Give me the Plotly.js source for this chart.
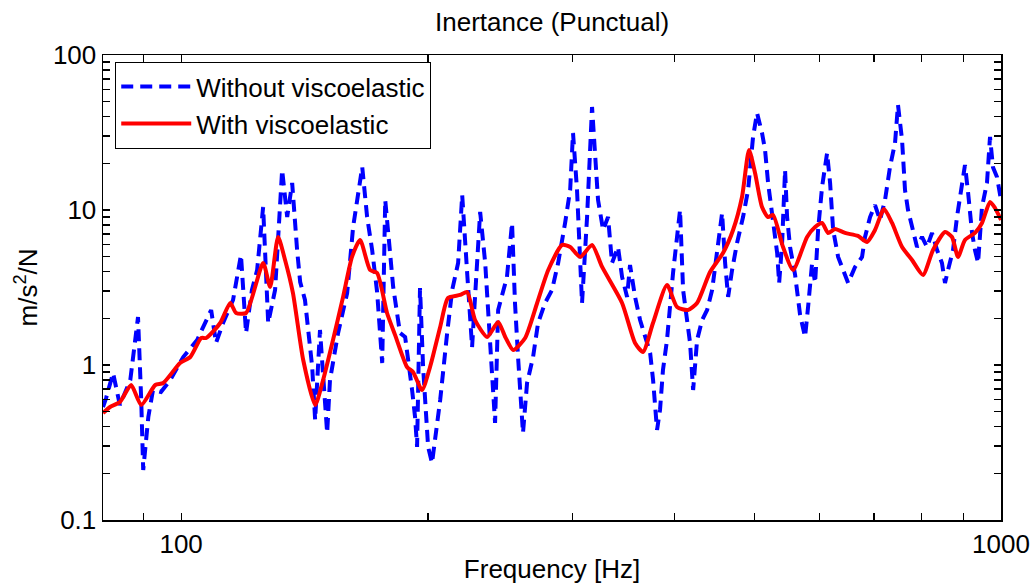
<!DOCTYPE html>
<html>
<head>
<meta charset="utf-8">
<script src="https://cdn.plot.ly/plotly-3.0.1.min.js"></script>
<style>html,body{margin:0;padding:0;background:#fff;}#chart{width:1033px;height:585px;}</style>
</head>
<body>
<div id="chart"></div>
<script>
// Frequency [Hz] and inertance [m/s^2/N]
const freqWithout = [80.3, 81.0, 82.6, 84.2, 86.7, 88.6, 89.4, 89.9, 91.2, 92.4, 94.5, 97.0, 100.6, 104.6, 108.8, 110.3, 112.5, 115.7, 118.3, 120.0, 122.0, 123.8, 125.9, 127.7, 130.2, 132.8, 134.7, 136.6, 138.5, 139.7, 141.6, 144.5, 145.7, 147.7, 150.7, 151.9, 155.4, 159.4, 162.1, 166.3, 168.6, 171.0, 173.4, 175.9, 177.4, 178.9, 181.4, 184.9, 187.6, 191.3, 192.9, 194.0, 195.6, 197.3, 200.1, 202.3, 204.1, 207.0, 211.1, 214.1, 217.7, 220.2, 223.3, 226.4, 228.3, 231.6, 234.9, 236.8, 241.5, 243.6, 249.7, 253.3, 255.4, 257.6, 261.2, 264.2, 268.7, 272.5, 277.9, 283.4, 288.3, 294.0, 298.2, 300.6, 304.0, 308.3, 312.7, 317.1, 319.8, 322.5, 327.1, 331.7, 335.4, 341.1, 345.0, 349.9, 352.8, 357.8, 362.9, 368.1, 373.3, 376.4, 380.6, 383.8, 387.0, 391.4, 394.7, 398.1, 402.6, 406.0, 409.5, 414.1, 417.6, 421.2, 425.9, 432.0, 438.1, 444.3, 451.8, 456.9, 460.8, 464.7, 469.9, 476.5, 484.6, 491.5, 498.4, 504.0, 511.1, 515.5, 519.9, 527.2, 533.3, 536.3, 540.8, 545.3, 548.4, 553.0, 560.9, 568.8, 576.8, 581.7, 588.3, 593.3, 598.3, 605.0, 613.6, 618.8, 624.1, 632.9, 641.9, 651.0, 663.7, 676.9, 682.6, 692.3, 702.0, 711.9, 722.0, 732.2, 742.6, 748.8, 757.4, 763.7, 770.2, 781.1, 789.9, 801.0, 812.4, 823.9, 835.6, 847.2, 854.5, 861.8, 874.0, 883.7, 896.2, 903.8, 911.8, 921.9, 929.5, 937.6, 948.0, 961.4, 969.6, 977.7, 988.8, 1000];
const inertanceWithout = [0.536, 0.612, 0.888, 0.552, 0.800, 2.04, 0.594, 0.210, 0.462, 0.690, 0.669, 0.800, 1.126, 1.45, 2.264, 1.387, 1.866, 2.627, 5.13, 1.609, 3.05, 4.10, 10.45, 1.866, 3.05, 18.12, 9.01, 14.94, 5.52, 3.43, 2.627, 0.971, 0.442, 1.682, 0.364, 0.800, 1.609, 2.91, 7.77, 18.94, 9.01, 5.52, 2.96, 1.03, 11.60, 7.11, 3.19, 1.609, 1.516, 0.690, 0.462, 0.296, 3.14, 0.971, 0.296, 0.233, 0.338, 0.594, 1.609, 3.05, 4.55, 12.50, 3.92, 1.306, 2.75, 9.71, 4.55, 2.165, 0.423, 2.264, 3.70, 8.25, 2.512, 1.126, 0.364, 0.765, 1.126, 1.866, 2.512, 3.05, 4.55, 8.25, 13.46, 31.4, 13.46, 2.512, 9.01, 46.2, 20.1, 11.60, 7.43, 9.01, 4.55, 5.77, 3.70, 2.75, 4.42, 2.75, 1.951, 1.516, 1.195, 0.800, 0.381, 0.513, 0.928, 1.45, 2.512, 3.92, 6.70, 10.0, 3.05, 2.04, 1.387, 0.690, 1.45, 1.951, 2.264, 3.05, 6.13, 9.56, 4.55, 2.75, 4.10, 6.13, 9.01, 13.46, 29.6, 42.3, 31.4, 24.4, 14.94, 8.25, 5.28, 3.38, 6.13, 18.12, 9.01, 5.77, 3.81, 2.10, 1.516, 2.366, 4.55, 3.38, 7.43, 14.1, 23.3, 14.94, 7.43, 4.98, 4.10, 3.38, 4.29, 4.98, 6.70, 9.01, 10.77, 8.62, 11.60, 18.94, 27.1, 47.6, 28.3, 13.46, 10.0, 7.11, 5.77, 6.70, 5.77, 7.11, 5.52, 4.55, 3.38, 4.10, 5.52, 9.01, 14.1, 19.5, 12.9, 7.11, 5.52, 4.55, 10.45, 14.94, 29.6, 18.9, 16.33, 11.6];

const freqWith = [80.3, 81.9, 84.2, 86.9, 89.4, 93.0, 95.1, 99.7, 102.6, 105.8, 107.3, 111.6, 114.8, 116.7, 120.0, 125.9, 128.4, 131.3, 133.9, 136.9, 140.9, 145.7, 149.0, 153.2, 157.6, 161.6, 165.3, 170.0, 173.4, 178.3, 182.4, 188.6, 191.8, 196.7, 201.2, 207.0, 211.6, 218.9, 223.3, 228.3, 236.2, 243.6, 248.5, 254.1, 262.8, 271.8, 280.4, 291.6, 298.2, 306.7, 317.1, 326.2, 345.0, 357.8, 365.9, 376.3, 391.4, 402.6, 415.2, 425.9, 441.7, 458.1, 471.2, 483.2, 492.8, 501.2, 511.1, 519.9, 527.2, 542.2, 557.7, 580.1, 593.3, 605.0, 615.2, 627.5, 645.3, 669.2, 686.4, 702.0, 720.0, 736.4, 757.4, 778.9, 803.3, 826.2, 854.5, 871.4, 886.3, 903.8, 929.5, 948.0, 969.6, 983.3, 1000];
const inertanceWith = [0.490, 0.536, 0.577, 0.743, 0.552, 0.743, 0.765, 1.03, 1.126, 1.494, 1.494, 1.866, 2.512, 2.165, 2.165, 4.55, 3.19, 6.70, 4.76, 2.91, 1.077, 0.552, 0.800, 1.45, 2.75, 4.98, 6.41, 4.10, 3.92, 2.165, 1.56, 0.971, 0.901, 0.690, 0.971, 1.759, 2.706, 2.83, 2.96, 1.951, 1.516, 1.894, 1.516, 1.250, 1.494, 2.512, 4.10, 5.95, 5.77, 4.98, 5.95, 4.29, 2.512, 1.387, 1.213, 1.866, 3.28, 2.366, 2.264, 2.512, 3.98, 5.28, 7.43, 12.13, 24.4, 17.33, 10.45, 9.01, 9.28, 5.77, 4.10, 6.70, 7.77, 8.25, 7.11, 7.54, 7.11, 6.80, 6.22, 7.43, 10.15, 8.25, 5.77, 4.76, 3.81, 5.52, 7.21, 6.70, 4.98, 6.41, 7.11, 8.25, 11.26, 10.30, 8.62];

const seriesNames = ['Without viscoelastic', 'With viscoelastic'];
// tick positions (decades labelled, intermediate log ticks unlabelled)
const xTickVals = [90, 100, 200, 300, 400, 500, 600, 700, 800, 900, 1000];
const xTickText = ['', '100', '', '', '', '', '', '', '', '', '1000'];
const yTickVals = [0.1, 0.2, 0.3, 0.4, 0.5, 0.6, 0.7, 0.8, 0.9, 1, 2, 3, 4, 5, 6, 7, 8, 9, 10, 20, 30, 40, 50, 60, 70, 80, 90, 100];
const yTickText = ['0.1', '', '', '', '', '', '', '', '', '1', '', '', '', '', '', '', '', '', '10', '', '', '', '', '', '', '', '', '100'];

const font = {family: 'Arial, "Liberation Sans", Helvetica, sans-serif', size: 26, color: '#000'};

const traces = [
  {x: freqWithout, y: inertanceWithout, name: seriesNames[0], mode: 'lines', type: 'scatter',
   line: {color: '#0000ff', width: 4, dash: '12px,7px'}},
  {x: freqWith, y: inertanceWith, name: seriesNames[1], mode: 'lines', type: 'scatter',
   line: {color: '#ff0000', width: 4, shape: 'spline', smoothing: 0.6}}
];

const axisCommon = {
  showgrid: false, zeroline: false, showline: true, linecolor: '#000', linewidth: 1.5,
  mirror: 'allticks', ticks: 'inside', ticklen: 7, tickcolor: '#000', tickwidth: 1.2,
  tickfont: font, tickmode: 'array'
};

const layout = {
  width: 1033, height: 585,
  margin: {l: 103, r: 32, t: 55, b: 65},
  paper_bgcolor: '#fff', plot_bgcolor: '#fff',
  font: font,
  showlegend: true,
  title: {text: 'Inertance (Punctual)', font: font, x: 0.5345, xanchor: 'center', y: 0.962, yanchor: 'middle'},
  xaxis: Object.assign({}, axisCommon, {
    type: 'log', range: [Math.log10(80.3), 3], tickvals: xTickVals, ticktext: xTickText,
    title: {text: 'Frequency [Hz]', font: font, standoff: 2}
  }),
  yaxis: Object.assign({}, axisCommon, {
    type: 'log', range: [-1, 2], tickvals: yTickVals, ticktext: yTickText,
    title: {text: 'm/s<sup>2</sup>/N', font: font, standoff: 8}
  }),
  legend: {
    x: 0.0134, y: 0.985, xanchor: 'left', yanchor: 'top',
    bgcolor: '#fff', bordercolor: '#000', borderwidth: 1.2,
    font: font, itemwidth: 70, tracegroupgap: 0
  }
};

Plotly.newPlot('chart', traces, layout, {staticPlot: true, displayModeBar: false});
</script>
</body>
</html>
